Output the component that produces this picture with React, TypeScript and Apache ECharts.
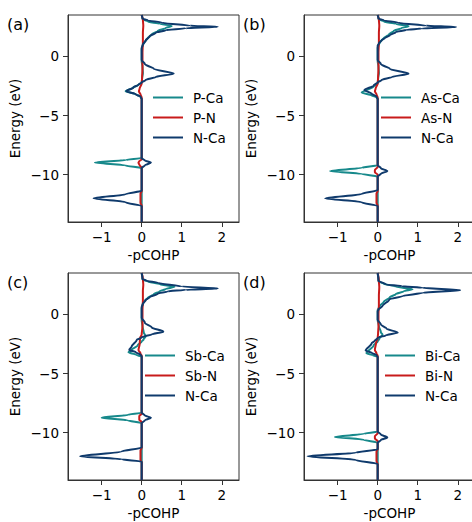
import React, { useEffect, useRef } from "react";
import * as echarts from "echarts";

type P = [number, number][];

// -pCOHP (x) vs Energy in eV (y), panel (a): P
const aXCa: P = [[0,3.5],[0.02,3.15],[0.15,2.95],[0.45,2.75],[0.75,2.58],[0.6,2.4],[0.4,2.15],[0.25,1.85],[0.15,1.55],[0.07,1.2],[0.02,0.9],[0,0.6],[0,-0.4],[0.02,-0.9],[0.03,-1.4],[0.01,-1.9],[0,-2.2],[-0.1,-2.45],[-0.22,-2.65],[-0.4,-2.95],[-0.15,-3.2],[-0.03,-3.4],[0,-3.6],[0,-8.58],[-0.4,-8.75],[-1.17,-8.98],[-0.4,-9.22],[0,-9.45],[0,-14]];
const aXN: P = [[0,3.5],[0.03,3.1],[0.04,2.6],[0.03,2.0],[0.03,1.2],[0.02,0.3],[0.02,-1.0],[0.01,-1.8],[0,-2.3],[-0.05,-2.7],[-0.07,-2.95],[-0.03,-3.2],[0,-3.5],[0,-8.7],[-0.07,-8.9],[-0.08,-9.0],[-0.05,-9.2],[0,-9.4],[0,-11.4],[-0.03,-11.6],[-0.03,-12.4],[0,-12.6],[0,-14]];
const aNCa: P = [[0,3.5],[0.02,3.2],[0.15,3.05],[0.5,2.85],[1.2,2.6],[1.9,2.5],[1.1,2.38],[0.6,2.22],[0.35,2.0],[0.2,1.7],[0.1,1.35],[0.03,1.0],[0,0.7],[0,-0.3],[0.08,-0.65],[0.3,-1.05],[0.8,-1.45],[0.35,-1.75],[0.1,-2.0],[0,-2.2],[-0.08,-2.4],[-0.2,-2.6],[-0.38,-2.95],[-0.15,-3.2],[-0.03,-3.4],[0,-3.6],[0,-8.6],[0.08,-8.8],[0.23,-8.98],[0.08,-9.2],[0,-9.45],[0,-11.35],[-0.4,-11.65],[-1.2,-12.0],[-0.4,-12.33],[0,-12.65],[0,-14]];

// panel (b): As
const bXCa: P = [[0,3.5],[0.02,3.15],[0.15,2.95],[0.45,2.75],[0.77,2.55],[0.6,2.4],[0.4,2.15],[0.28,1.85],[0.15,1.55],[0.07,1.25],[0.02,0.95],[0,0.7],[0,-0.4],[0.02,-0.9],[0.03,-1.4],[0.01,-1.9],[0,-2.3],[-0.1,-2.55],[-0.4,-3.06],[-0.15,-3.3],[-0.03,-3.45],[0,-3.6],[0,-9.2],[-0.4,-9.42],[-1.19,-9.69],[-0.4,-9.93],[0,-10.16],[0,-14]];
const bXN: P = [[0,3.5],[0.03,3.1],[0.04,2.6],[0.03,2.0],[0.03,1.2],[0.02,0.3],[0.02,-1.0],[0.01,-1.8],[0,-2.3],[-0.05,-2.7],[-0.07,-2.95],[-0.03,-3.2],[0,-3.5],[0,-9.35],[-0.07,-9.6],[-0.07,-9.8],[0,-10.0],[0,-11.4],[-0.03,-11.6],[-0.03,-12.4],[0,-12.6],[0,-14]];
const bNCa: P = [[0,3.5],[0.02,3.2],[0.15,3.05],[0.5,2.85],[1.2,2.6],[1.96,2.48],[1.1,2.36],[0.72,2.25],[0.45,2.05],[0.31,1.8],[0.18,1.55],[0.1,1.37],[0.03,1.1],[0,0.9],[0,-0.3],[0.08,-0.65],[0.3,-1.05],[0.77,-1.46],[0.35,-1.75],[0.1,-2.0],[0,-2.2],[-0.1,-2.45],[-0.33,-2.85],[-0.15,-3.15],[-0.03,-3.4],[0,-3.6],[0,-9.2],[0.08,-9.45],[0.24,-9.69],[0.08,-9.92],[0,-10.15],[0,-11.3],[-0.4,-11.63],[-1.31,-12.0],[-0.4,-12.33],[0,-12.65],[0,-14]];

// panel (c): Sb
const cXCa: P = [[0,3.5],[0.02,2.95],[0.15,2.78],[0.45,2.55],[0.82,2.33],[0.6,2.15],[0.45,1.95],[0.3,1.7],[0.15,1.4],[0.06,1.1],[0.02,0.8],[0,0.5],[0,-0.5],[0.02,-1.0],[0.05,-1.5],[0.1,-1.85],[0.05,-2.1],[0,-2.3],[-0.1,-2.6],[-0.25,-3.0],[-0.33,-3.2],[-0.15,-3.4],[0,-3.6],[0,-8.3],[-0.35,-8.5],[-1.0,-8.73],[-0.35,-8.95],[0,-9.2],[0,-14]];
const cXN: P = [[0,3.5],[0.03,3.0],[0.04,2.5],[0.03,2.0],[0.03,1.2],[0.02,0.3],[0.02,-1.0],[0,-1.7],[-0.04,-2.0],[-0.05,-2.5],[-0.08,-3.0],[-0.03,-3.3],[0,-3.5],[0,-8.4],[-0.06,-8.6],[-0.06,-8.9],[0,-9.1],[0,-11.3],[-0.03,-11.5],[-0.03,-12.3],[0,-12.5],[0,-14]];
const cNCa: P = [[0,3.5],[0.02,3.0],[0.12,2.85],[0.4,2.68],[1.0,2.35],[1.9,2.19],[1.1,2.08],[0.65,1.95],[0.4,1.75],[0.2,1.45],[0.1,1.2],[0.03,0.9],[0,0.6],[0,-0.3],[0.08,-0.7],[0.25,-1.1],[0.54,-1.46],[0.25,-1.7],[0.05,-1.88],[0,-1.95],[-0.125,-2.16],[-0.25,-2.72],[-0.31,-3.0],[-0.15,-3.2],[-0.03,-3.4],[0,-3.55],[0,-8.3],[0.08,-8.55],[0.23,-8.73],[0.08,-8.95],[0,-9.2],[0,-11.25],[-0.5,-11.6],[-1.54,-11.99],[-0.5,-12.25],[0,-12.45],[0,-14]];

// panel (d): Bi
const dXCa: P = [[0,3.5],[0.02,2.8],[0.15,2.6],[0.45,2.35],[0.87,2.12],[0.65,1.95],[0.45,1.7],[0.3,1.45],[0.15,1.05],[0.05,0.7],[0,0.35],[0,-0.5],[0.03,-1.0],[0.08,-1.5],[0.12,-1.72],[0.05,-2.0],[0,-2.3],[-0.1,-2.6],[-0.28,-3.28],[-0.12,-3.45],[0,-3.6],[0,-9.9],[-0.35,-10.1],[-1.07,-10.36],[-0.35,-10.6],[0,-10.84],[0,-14]];
const dXN: P = [[0,3.5],[0.03,2.8],[0.04,2.3],[0.03,1.6],[0.03,0.8],[0.02,0],[0.02,-1.0],[0.01,-1.6],[0,-2.0],[-0.04,-2.4],[-0.07,-3.0],[-0.03,-3.3],[0,-3.5],[0,-10.05],[-0.07,-10.3],[-0.07,-10.5],[0,-10.7],[0,-11.4],[-0.03,-11.6],[-0.03,-12.4],[0,-12.65],[0,-14]];
const dNCa: P = [[0,3.5],[0.02,2.85],[0.21,2.53],[0.6,2.38],[1.12,2.25],[2.06,2.05],[1.12,1.83],[0.62,1.55],[0.29,1.27],[0.12,0.7],[0.03,0.45],[0,0.28],[0,-0.45],[0.08,-0.85],[0.22,-1.2],[0.5,-1.54],[0.2,-1.78],[0.04,-1.93],[0,-2.0],[-0.08,-2.25],[-0.15,-2.44],[-0.3,-3.06],[-0.15,-3.25],[-0.03,-3.45],[0,-3.6],[0,-9.9],[0.08,-10.15],[0.24,-10.4],[0.08,-10.62],[0,-10.85],[0,-11.4],[-0.55,-11.7],[-1.75,-11.99],[-0.55,-12.3],[0,-12.66],[0,-14]];

const panelLabels = ["(a)", "(b)", "(c)", "(d)"];
const elements = ["P", "As", "Sb", "Bi"];
const panelData: P[][] = [
  [aXCa, aXN, aNCa],
  [bXCa, bXN, bNCa],
  [cXCa, cXN, cNCa],
  [dXCa, dXN, dNCa],
];
const xTicks = [-1, 0, 1, 2];
const yTicks = [-10, -5, 0];
const xRange = [-1.84, 2.43];
const yRange = [-14, 3.5];
const xName = "-pCOHP";
const yName = "Energy (eV)";

const COLORS = ["#17898b", "#c81b1b", "#0f3a6c"];
const FONT = "DejaVu Sans";
const FS = 13.5;

export default function App() {
  const ref = useRef<HTMLDivElement>(null);
  useEffect(() => {
    if (!ref.current) return;
    const chart = echarts.init(ref.current, null, { renderer: "svg" });
    const lefts = [68, 304, 68, 304];
    const tops = [15, 15, 273, 273];
    const legendLefts = [153, 381, 145, 385];
    const fmt = (v: number) => String(v).replace("-", "\u2212");
    const grids: any[] = [];
    const xAxes: any[] = [];
    const yAxes: any[] = [];
    const series: any[] = [];
    const legends: any[] = [];
    const titles: any[] = [];
    for (let i = 0; i < 4; i++) {
      grids.push({
        left: lefts[i], top: tops[i], width: 171, height: 207,
        show: true, borderColor: "#333", borderWidth: 1,
        backgroundColor: "transparent", containLabel: false, outerBoundsMode: "none",
      });
      xAxes.push({
        gridIndex: i, type: "value", min: xRange[0], max: xRange[1],
        name: xName, nameLocation: "middle", nameGap: 26,
        nameTextStyle: { fontSize: FS, color: "#000", fontFamily: FONT },
        axisLine: { show: true, onZero: false, lineStyle: { color: "#333", width: 1 } },
        axisTick: { show: true, inside: false, length: 5, customValues: xTicks, lineStyle: { color: "#333" } },
        axisLabel: { customValues: xTicks, formatter: fmt, margin: 8, fontSize: FS, color: "#000", fontFamily: FONT },
        splitLine: { show: false },
      });
      yAxes.push({
        gridIndex: i, type: "value", min: yRange[0], max: yRange[1],
        name: yName, nameLocation: "middle", nameGap: 46,
        nameTextStyle: { fontSize: FS, color: "#000", fontFamily: FONT },
        axisLine: { show: true, onZero: false, lineStyle: { color: "#333", width: 1 } },
        axisTick: { show: true, inside: false, length: 5, customValues: yTicks, lineStyle: { color: "#333" } },
        axisLabel: { customValues: yTicks, formatter: fmt, margin: 9, fontSize: FS, color: "#000", fontFamily: FONT },
        splitLine: { show: false },
      });
      const names = [`${elements[i]}-Ca`, `${elements[i]}-N`, "N-Ca"];
      panelData[i].forEach((d, k) => {
        series.push({
          type: "line", name: names[k], xAxisIndex: i, yAxisIndex: i,
          data: d, showSymbol: false, symbol: "none",
          smooth: 0.3, smoothMonotone: "y",
          lineStyle: { color: COLORS[k], width: 2 },
          itemStyle: { color: COLORS[k] },
          z: 2 + k,
        });
      });
      legends.push({
        data: names.map((n, k) => ({ name: n, itemStyle: { color: COLORS[k] } })),
        left: legendLefts[i], top: tops[i] + 72.5, orient: "vertical",
        icon: "rect", itemWidth: 30, itemHeight: 2, itemGap: 0,
        selectedMode: false, padding: 0,
        textStyle: { fontSize: FS, color: "#000", fontFamily: FONT, lineHeight: 20, padding: [0, 0, 0, 5] },
      });
      titles.push({
        text: panelLabels[i], left: lefts[i] - 61, top: tops[i] + 1, padding: 0,
        textStyle: { fontSize: 16, fontWeight: "normal", color: "#000", fontFamily: FONT },
      });
    }
    chart.setOption({
      animation: false,
      backgroundColor: "#fff",
      textStyle: { fontFamily: FONT },
      title: titles,
      grid: grids,
      xAxis: xAxes,
      yAxis: yAxes,
      legend: legends,
      series,
    });
    return () => chart.dispose();
  }, []);
  return (
    <div
      ref={ref}
      style={{ position: "absolute", left: 0, top: 0, width: 472, height: 522 }}
    />
  );
}
